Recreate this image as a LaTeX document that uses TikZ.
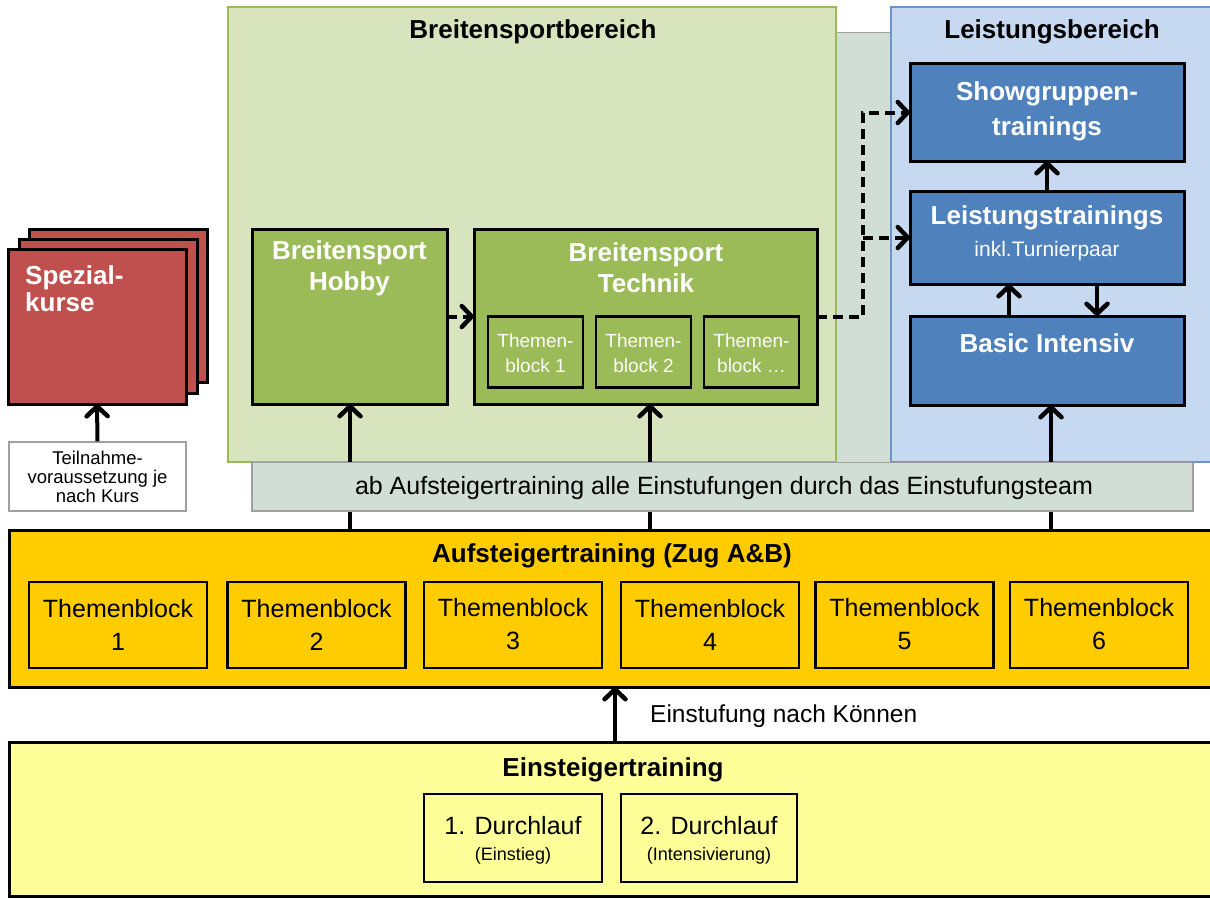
\documentclass[tikz,border=0pt]{standalone}
\usepackage{fontspec}
\setmainfont{Liberation Sans}
\usetikzlibrary{arrows.meta}
\definecolor{bsreg}{HTML}{D7E4BD}
\definecolor{bsline}{HTML}{9BBB59}
\definecolor{bsbox}{HTML}{9BBB59}
\definecolor{lreg}{HTML}{C6D9F1}
\definecolor{lline}{HTML}{6C93C8}
\definecolor{lbox}{HTML}{4F81BD}
\definecolor{redbox}{HTML}{C0504D}
\definecolor{yel}{HTML}{FFCC00}
\definecolor{lyel}{HTML}{FFFF99}
\definecolor{grayreg}{HTML}{D1DED6}
\definecolor{grayline}{HTML}{A0A0A0}
\begin{document}
\begin{tikzpicture}[x=1pt,y=-1pt,
  box/.style={draw=black,line width=3pt,inner sep=0pt,outer sep=0pt},
  tbox/.style={draw=black,line width=2.5pt,inner sep=0pt,outer sep=0pt},
  region/.style={line width=1.5pt,inner sep=0pt,outer sep=0pt},
  arr/.style={line width=4pt,-{Straight Barb[length=10pt,width=21pt,line width=4.5pt,round]}},
  darr/.style={arr,dash pattern=on 10pt off 6pt},
  title/.style={inner sep=0pt,font=\fontsize{26}{31}\selectfont\bfseries},
  wt/.style={inner sep=0pt,text=white,align=center,font=\fontsize{26}{31}\selectfont\bfseries},
  tbtext/.style={inner sep=0pt,align=center,font=\fontsize{25}{33}\selectfont},
  smallw/.style={inner sep=0pt,text=white,align=center,font=\fontsize{19}{25}\selectfont},
]
\useasboundingbox (0,0) rectangle (1210,899);

% background grey area
\node[region,draw=grayline,fill=grayreg,minimum width=941pt,minimum height=478pt] (grayreg) at (722.5,271.5) {};
% regions
\node[region,draw=bsline,fill=bsreg,minimum width=608pt,minimum height=455pt] (bsreg) at (532,234.5) {};
\node[region,draw=lline,fill=lreg,minimum width=322pt,minimum height=455pt] (lreg) at (1052,234.5) {};
\node[title] (bstitle) at (533,32) {Breitensportbereich};
\node[title] (ltitle) at (1052,32) {Leistungsbereich};

% Spezialkurse stack
\node[box,fill=redbox,minimum width=178pt,minimum height=153pt] (sp3) at (118,306) {};
\node[box,fill=redbox,minimum width=178pt,minimum height=154pt] (sp2) at (108,316) {};
\node[box,fill=redbox,minimum width=178pt,minimum height=155pt] (sp1) at (97,326.5) {};
\node[inner sep=0pt,text=white,align=left,anchor=west,font=\fontsize{26}{27}\selectfont\bfseries] (spt) at (25,289) {Spezial-\\kurse};
\node[draw=grayline,line width=1.2pt,fill=white,inner sep=0pt,minimum width=177pt,minimum height=69pt,align=center,font=\fontsize{18.5}{19}\selectfont] (teil) at (97.5,476.5) {Teilnahme-\\voraussetzung je\\nach Kurs};

% Breitensport boxes
\node[box,fill=bsbox,minimum width=195pt,minimum height=175pt] (hobby) at (349.5,316.5) {};
\node[wt] (hobbyt) at (349.5,268) {Breitensport\\Hobby};
\node[box,fill=bsbox,minimum width=343pt,minimum height=175pt] (tech) at (645.5,316.5) {};
\node[wt] (techt) at (646,268) {Breitensport\\Technik};
\node[tbox,fill=bsbox,minimum width=95pt,minimum height=71pt] (st1) at (535.5,352) {};
\node[tbox,fill=bsbox,minimum width=95pt,minimum height=71pt] (st2) at (643.5,352) {};
\node[tbox,fill=bsbox,minimum width=95pt,minimum height=71pt] (st3) at (751.5,352) {};
\node[smallw] (st1t) at (535.5,353) {Themen-\\block 1};
\node[smallw] (st2t) at (643.5,353) {Themen-\\block 2};
\node[smallw] (st3t) at (751.5,353) {Themen-\\block \dots};

% Leistungsbereich boxes
\node[box,fill=lbox,minimum width=274pt,minimum height=97pt] (show) at (1047,112.5) {};
\node[wt,font=\fontsize{26}{35}\selectfont\bfseries] (showt) at (1047,111) {Showgruppen-\\trainings};
\node[box,fill=lbox,minimum width=274pt,minimum height=93pt] (leist) at (1047,237.5) {};
\node[wt] (leistt) at (1047,218) {Leistungstrainings};
\node[inner sep=0pt,text=white,font=\fontsize{21}{25}\selectfont] (leistsub) at (1047,251) {inkl.Turnierpaar};
\node[box,fill=lbox,minimum width=274pt,minimum height=89pt] (basic) at (1047,360.5) {};
\node[wt] (basict) at (1047,343) {Basic Intensiv};

% Aufsteigertraining
\node[box,fill=yel,minimum width=1206pt,minimum height=157pt] (auf) at (612,608.5) {};
\node[title] (auft) at (612,556) {Aufsteigertraining (Zug A\&B)};
\foreach \i/\x in {1/118,2/316.5,3/513,4/710,5/904.5,6/1099}{
  \node[tbox,fill=yel,minimum width=178pt,minimum height=86pt] (tb\i) at (\x,625) {};
  \node[tbtext] (tb\i t) at (\x,624.5) {Themenblock\\\i};
}

% Einsteigertraining
\node[box,fill=lyel,minimum width=1206pt,minimum height=154pt] (ein) at (612,819) {};
\node[title] (eint) at (613,770) {Einsteigertraining};
\node[tbox,fill=lyel,minimum width=178pt,minimum height=88pt] (d1) at (513,838) {};
\node[tbox,fill=lyel,minimum width=176pt,minimum height=88pt] (d2) at (709,838) {};
\node[inner sep=0pt,font=\fontsize{25}{30}\selectfont] (d1t) at (513,826) {1. Durchlauf};
\node[inner sep=0pt,font=\fontsize{18}{22}\selectfont] (d1s) at (513,856) {(Einstieg)};
\node[inner sep=0pt,font=\fontsize{25}{30}\selectfont] (d2t) at (709,826) {2. Durchlauf};
\node[inner sep=0pt,font=\fontsize{18}{22}\selectfont] (d2s) at (709,856) {(Intensivierung)};

% connectors
\coordinate (xa) at (350,0);
\coordinate (xb) at (650,0);
\coordinate (xc) at (1051,0);
\coordinate (xd) at (615,0);
\coordinate (xe) at (1009,0);
\coordinate (xf) at (1097,0);
\coordinate (xg) at (863,0);
\draw[arr] (xa |- auf.north) -- (xa |- hobby.south);
\draw[arr] (xb |- auf.north) -- (xb |- tech.south);
\draw[arr] (xc |- auf.north) -- (xc |- basic.south);
\draw[arr] (xd |- ein.north) -- (xd |- auf.south);
\node[inner sep=0pt,anchor=west,font=\fontsize{24.5}{29}\selectfont] (einst) at (650,716) {Einstufung nach Können};
\draw[arr] (teil.north) -- (sp1.south);
\draw[arr] (leist.north) -- (show.south);
\draw[arr] (xe |- basic.north) -- (xe |- leist.south);
\draw[arr] (xf |- leist.south) -- (xf |- basic.north);
\draw[darr] (hobby.east) -- (tech.west);
\draw[darr] (tech.east) -- (xg |- tech.east) |- (show.west);
\draw[darr] (xg |- leist.west) -- (leist.west);

% strip drawn over the vertical arrows
\node[region,draw=grayline,fill=grayreg,minimum width=941pt,minimum height=48.5pt] (strip) at (722.5,486.75) {};
\node[inner sep=0pt,font=\fontsize{25}{30}\selectfont] (striptext) at (724,488) {ab Aufsteigertraining alle Einstufungen durch das Einstufungsteam};
\end{tikzpicture}
\end{document}
